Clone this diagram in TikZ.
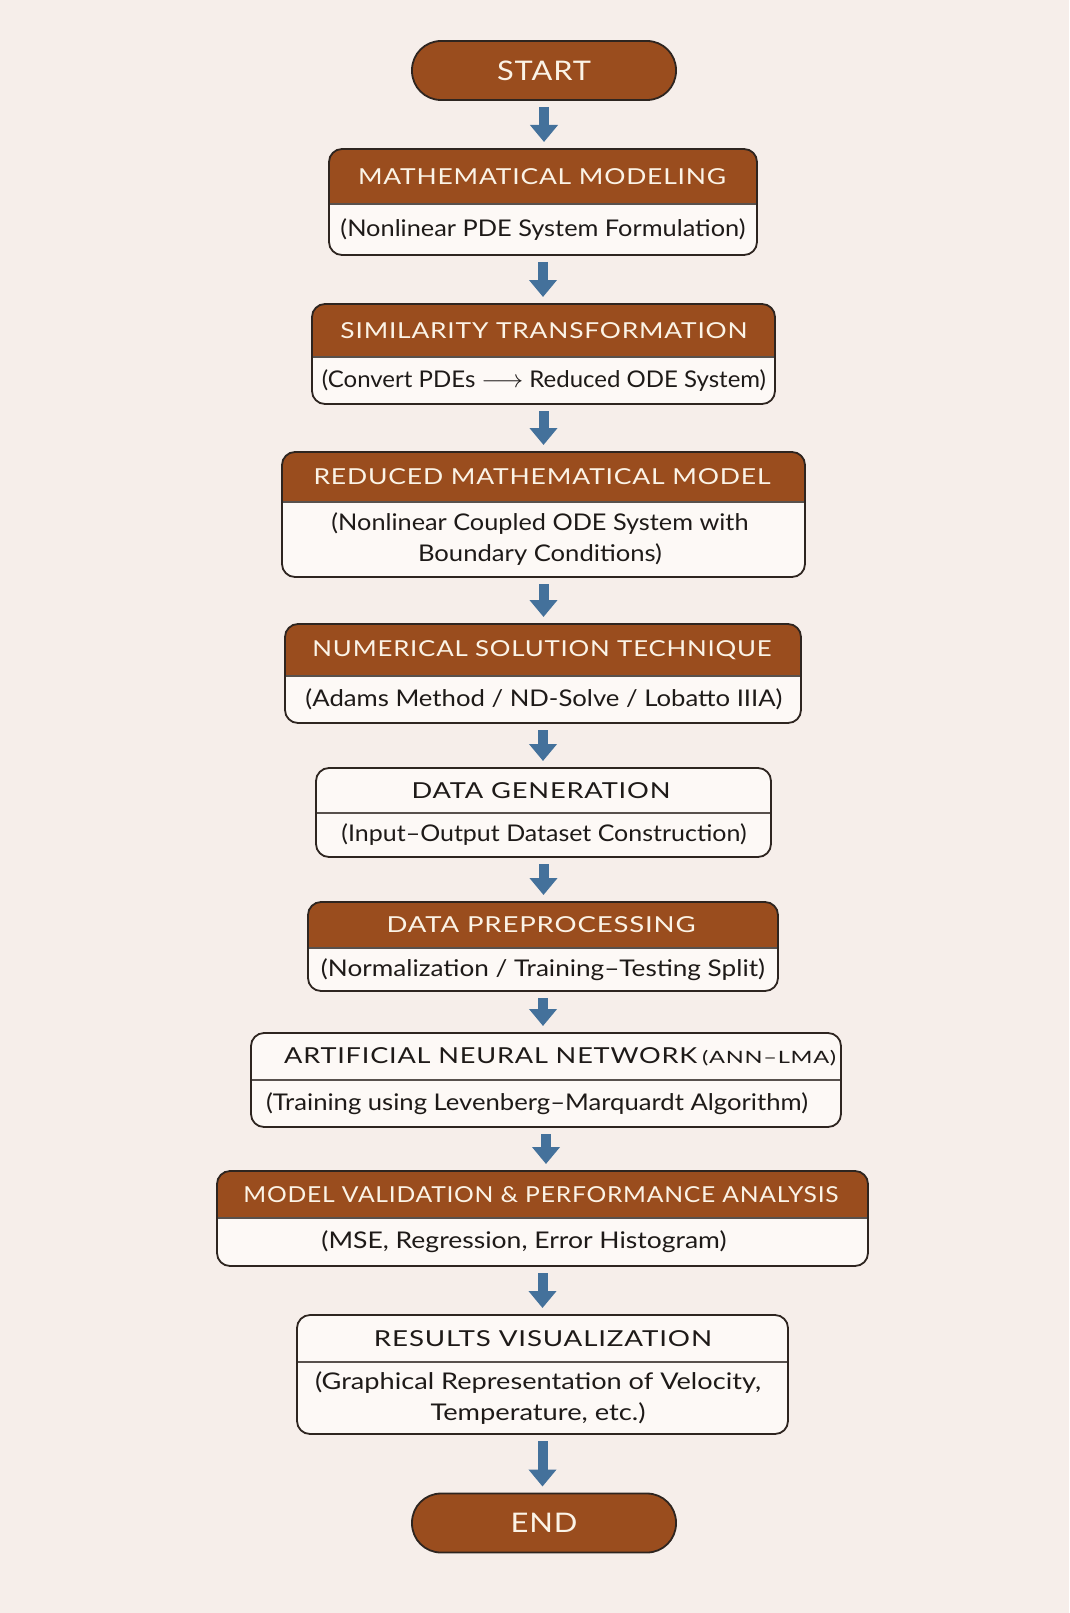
\documentclass[tikz,border=0pt]{standalone}
\usepackage{fontspec}
\usepackage{graphicx}
\setmainfont{Lato}
\newfontfamily\hdfont[LetterSpace=3]{Lato}
\usetikzlibrary{arrows.meta}
\definecolor{bgc}{HTML}{F6EEEA}
\definecolor{hdbrown}{HTML}{9A4D1E}
\definecolor{bodyw}{HTML}{FDF9F6}
\definecolor{edgec}{HTML}{2E2520}
\definecolor{arrowc}{HTML}{44719B}
\definecolor{headtxt}{HTML}{FBF3E6}
\definecolor{bodytxt}{HTML}{1E1A18}
\newcommand\fitw[2]{\resizebox{#1pt}{\height}{#2}}
\tikzset{
  framefill/.style={draw=none, fill=bodyw, rounded corners=13pt, inner sep=0pt, outer sep=0pt},
  frameedge/.style={draw=edgec, line width=1.8pt, rounded corners=13pt},
  divider/.style={draw=edgec!80, line width=1.2pt},
  termbox/.style={draw=edgec, line width=1.8pt, fill=hdbrown, rounded corners=29pt, inner sep=0pt, outer sep=0pt,
    text=headtxt, font=\hdfont\fontsize{27}{32}\selectfont},
  headw/.style={text=headtxt, font=\hdfont\fontsize{22}{26}\selectfont, inner sep=0pt},
  headb/.style={text=bodytxt, font=\hdfont\fontsize{22}{26}\selectfont, inner sep=0pt},
  bodytext/.style={text=bodytxt, font=\fontsize{23}{31}\selectfont, inner sep=0pt, align=center},
  flowarrow/.style={draw=arrowc, line width=10pt, -{Triangle[width=27pt,length=17pt]}, arrowc}
}
% #1 name, #2 left, #3 right, #4 top, #5 divider, #6 bottom, #7 header fill
\newcommand\FlowFrame[7]{%
  \node[framefill, minimum width={(#3-#2)*1pt}, minimum height={(#6-#4)*1pt}]
    (#1) at ({(#2+#3)/2},{(#4+#6)/2}) {};
  \begin{scope}
    \clip[rounded corners=13pt] (#2,#4) rectangle (#3,#6);
    \fill[#7] (#2,#4) rectangle (#3,#5);
  \end{scope}
  \draw[divider] (#2,#5) -- (#3,#5);
  \draw[frameedge] (#1.north west) rectangle (#1.south east);
}
\begin{document}
\begin{tikzpicture}[x=1pt,y=-1pt]
\fill[bgc] (0,0) rectangle (1069,1613);
\useasboundingbox (0,0) rectangle (1069,1613);

% START
\node[termbox, minimum width=264pt, minimum height=59pt] (start) at (544,70.5) {\fitw{94}{START}};

% Mathematical modeling
\FlowFrame{math}{329}{757}{149}{204}{255}{hdbrown}
\node[headw] (math-h) at (542,{(149+204)/2}) {\fitw{368}{MATHEMATICAL MODELING}};
\node[bodytext] (math-b) at (543,{(204+255)/2}) {\fitw{405}{(Nonlinear PDE System Formulation)}};

% Similarity
\FlowFrame{sim}{312}{775}{304}{357}{404}{hdbrown}
\node[headw] (sim-h) at (544,{(304+357)/2}) {\fitw{407}{SIMILARITY TRANSFORMATION}};
\node[bodytext] (sim-b) at (544,{(357+404)/2}) {\fitw{444}{(Convert PDEs $\longrightarrow$ Reduced ODE System)}};

% Reduced
\FlowFrame{red}{282}{805}{452}{502}{577}{hdbrown}
\node[headw] (red-h) at (542,{(452+502)/2}) {\fitw{457}{REDUCED MATHEMATICAL MODEL}};
\node[bodytext] (red-b) at (540,{(502+577)/2}) {\fitw{417}{(Nonlinear Coupled ODE System with}\\\fitw{244}{Boundary Conditions)}};

% Numerical
\FlowFrame{num}{285}{801}{624}{676}{723}{hdbrown}
\node[headw] (num-h) at (542,{(624+676)/2}) {\fitw{459}{NUMERICAL SOLUTION TECHNIQUE}};
\node[bodytext] (num-b) at (544,{(676+723)/2}) {\fitw{477}{(Adams Method / ND-Solve / Lobatto IIIA)}};

% Data generation
\FlowFrame{dgen}{316}{771}{768}{813}{857}{bodyw}
\node[headb] (dgen-h) at (541,{(768+813)/2}) {\fitw{259}{DATA GENERATION}};
\node[bodytext] (dgen-b) at (544,{(813+857)/2}) {\fitw{405}{(Input\textendash Output Dataset Construction)}};

% Data preprocessing
\FlowFrame{dpre}{308}{778}{902}{948}{991}{hdbrown}
\node[headw] (dpre-h) at (541,{(902+948)/2}) {\fitw{309}{DATA PREPROCESSING}};
\node[bodytext] (dpre-b) at (543,{(948+991)/2}) {\fitw{444}{(Normalization / Training\textendash Testing Split)}};

% ANN
\FlowFrame{ann}{251}{841}{1033}{1080}{1127}{bodyw}
\node[headb, anchor=west] (ann-h) at (284,{(1033+1080)/2}) {\fitw{413}{ARTIFICIAL NEURAL NETWORK}\hspace{5pt}{\fontsize{17}{19}\selectfont\fitw{134}{(ANN\textendash LMA)}}};
\node[bodytext] (ann-b) at (537,{(1080+1127)/2}) {\fitw{542}{(Training using Levenberg\textendash Marquardt Algorithm)}};

% Validation
\FlowFrame{mval}{217}{868}{1171}{1218}{1266}{hdbrown}
\node[headw] (mval-h) at (541,{(1171+1218)/2}) {\fitw{595}{MODEL VALIDATION \& PERFORMANCE ANALYSIS}};
\node[bodytext] (mval-b) at (524,{(1218+1266)/2}) {\fitw{405}{(MSE, Regression, Error Histogram)}};

% Results
\FlowFrame{res}{297}{788}{1315}{1362}{1434}{bodyw}
\node[headb] (res-h) at (543,{(1315+1362)/2}) {\fitw{338}{RESULTS VISUALIZATION}};
\node[bodytext] (res-b) at (538,{(1362+1434)/2}) {\fitw{446}{(Graphical Representation of Velocity,}\\\fitw{215}{Temperature, etc.)}};

% END
\node[termbox, minimum width=264pt, minimum height=59pt] (end) at (544,1523) {\fitw{67}{END}};

% arrows
\foreach \a/\b in {start/math, math/sim, sim/red, red/num, num/dgen, dgen/dpre, dpre/ann, ann/mval, mval/res, res/end}{
  \draw[flowarrow] ([yshift=-7pt]\a.south) -- ([yshift=7pt]\a.south |- \b.north);
}
\end{tikzpicture}
\end{document}
